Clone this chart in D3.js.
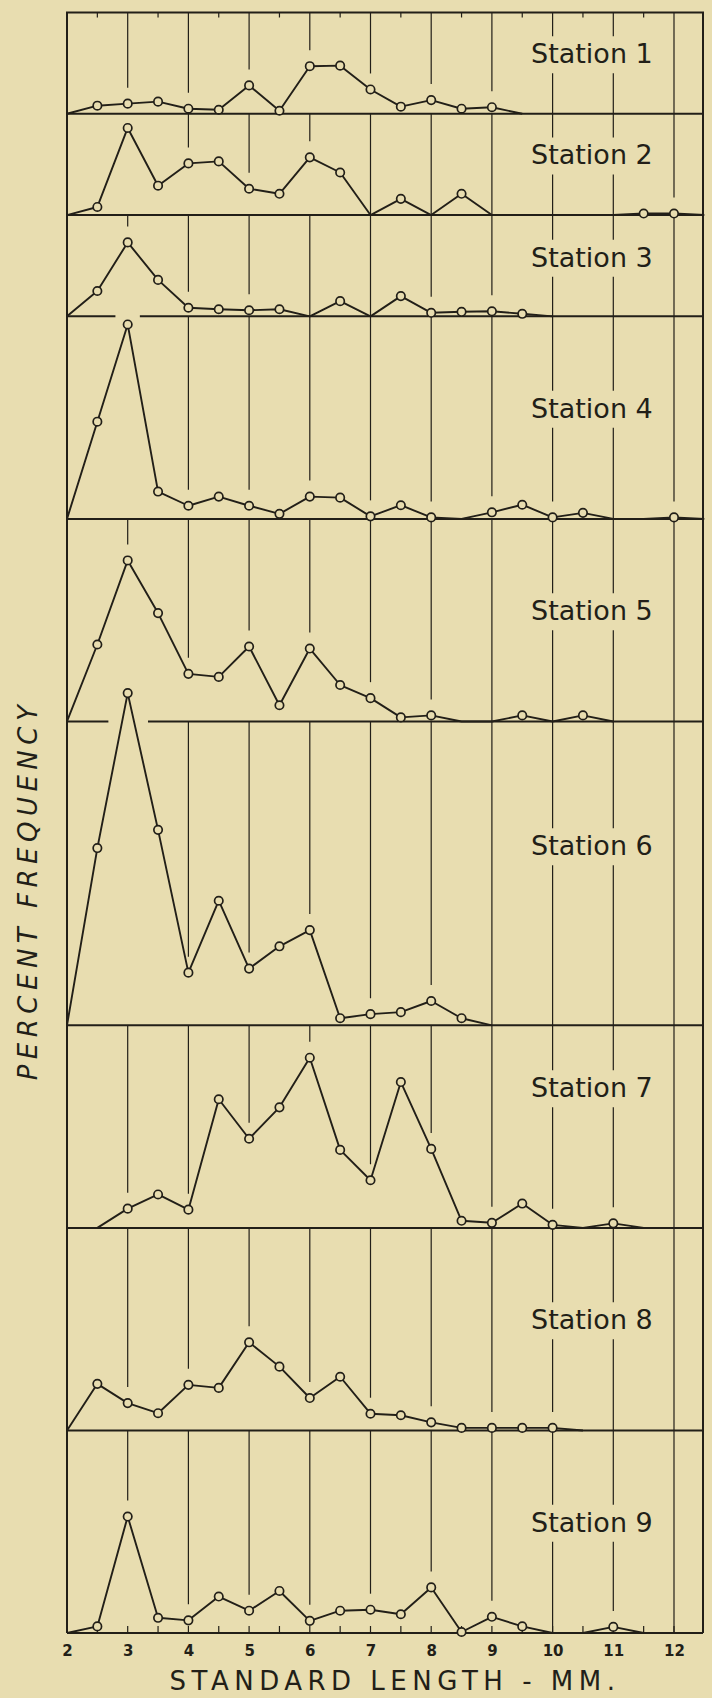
<!DOCTYPE html>
<html lang="en">
<head>
  <meta charset="UTF-8">
  <title>Percent frequency by standard length, stations 1-9</title>
  <script src="https://cdnjs.cloudflare.com/ajax/libs/d3/7.8.5/d3.min.js"></script>
  <style>
    body { margin: 0; background: #e8ddb0; }
    svg { display: block; }
  </style>
</head>
<body>
  <svg></svg>
  <script>
    // length classes (mm) along the x axis
    const lengths = [2, 2.5, 3, 3.5, 4, 4.5, 5, 5.5, 6, 6.5, 7, 7.5, 8, 8.5, 9, 9.5, 10, 10.5, 11, 11.5, 12, 12.5];
    const tickLabels = ['2', '3', '4', '5', '6', '7', '8', '9', '10', '11', '12'];
    const stationNames = ['Station 1', 'Station 2', 'Station 3', 'Station 4', 'Station 5',
      'Station 6', 'Station 7', 'Station 8', 'Station 9'];

    // percent frequency, one value per length class
    const station1 = [0, 0.8, 1.0, 1.2, 0.5, 0.4, 2.8, 0.3, 4.7, 4.75, 2.4, 0.7, 1.35, 0.5, 0.65, 0, 0, 0, 0, 0, 0, 0];
    const station2 = [0, 0.8, 8.6, 2.9, 5.1, 5.3, 2.6, 2.1, 5.7, 4.2, 0, 1.6, 0, 2.1, 0, 0, 0, 0, 0, 0.15, 0.15, 0];
    const station3 = [0, 2.5, 7.3, 3.6, 0.85, 0.7, 0.6, 0.7, 0, 1.5, 0, 2.0, 0.35, 0.45, 0.5, 0.25, 0, 0, 0, 0, 0, 0];
    const station4 = [0, 9.6, 19.2, 2.7, 1.3, 2.2, 1.3, 0.5, 2.2, 2.1, 0.25, 1.35, 0.15, 0, 0.65, 1.4, 0.15, 0.6, 0, 0, 0.15, 0];
    const station5 = [0, 7.6, 15.9, 10.7, 4.7, 4.4, 7.4, 1.6, 7.2, 3.6, 2.3, 0.4, 0.6, 0, 0, 0.6, 0, 0.6, 0, 0, 0, 0];
    const station6 = [0, 17.5, 32.8, 19.3, 5.2, 12.3, 5.6, 7.8, 9.4, 0.7, 1.1, 1.3, 2.4, 0.7, 0, 0, 0, 0, 0, 0, 0, 0];
    const station7 = [0, 0, 1.9, 3.3, 1.8, 12.7, 8.8, 11.9, 16.8, 7.7, 4.7, 14.4, 7.8, 0.7, 0.5, 2.4, 0.3, 0, 0.45, 0, 0, 0];
    const station8 = [0, 4.6, 2.7, 1.7, 4.5, 4.2, 8.7, 6.3, 3.2, 5.3, 1.65, 1.5, 0.8, 0.25, 0.25, 0.25, 0.25, 0, 0, 0, 0, 0];
    const station9 = [0, 0.65, 11.5, 1.5, 1.25, 3.6, 2.2, 4.15, 1.2, 2.2, 2.3, 1.85, 4.5, 0.1, 1.6, 0.65, 0, 0, 0.6, 0, 0, 0];
    const allStations = [station1, station2, station3, station4, station5, station6, station7, station8, station9];

    // height of each panel in percent
    const panelMax = [10, 10, 10, 20, 20, 30, 20, 20, 20];

    // layout
    const W = 712, H = 1698;
    const plotTop = 12.5, plotBottom = 1633;
    const plotLeft = 67, plotRight = 703;
    const labelDrop = [5, 5, 5.1, 10, 10, 13.2, 7.1, 10, 10]; // label baseline below panel top, in percent units
    const ink = '#221f18', paper = '#e8ddb0';

    const svg = d3.select('svg').attr('width', W).attr('height', H);
    svg.append('rect').attr('width', W).attr('height', H).attr('fill', paper);

    const x = d3.scaleLinear().domain([2, 12]).range([plotLeft, 674]);
    const stack = d3.scaleLinear().domain([0, d3.sum(panelMax)]).range([plotTop, plotBottom]);

    const gGrid = svg.append('g');
    const gFrame = svg.append('g');
    const gData = svg.append('g');
    const gText = svg.append('g');

    // panels
    let cum = 0;
    const panels = allStations.map((vals, i) => {
      const top = stack(cum);
      cum += panelMax[i];
      const base = stack(cum);
      const y = d3.scaleLinear().domain([0, panelMax[i]]).range([base, top]);
      const firstNz = vals.findIndex(v => v > 0);
      let lastNz = vals.length - 1;
      while (vals[lastNz] === 0) lastNz--;
      const from = Math.max(0, firstNz - 1), to = Math.min(vals.length - 1, lastNz + 1);
      const pts = d3.range(from, to + 1).map(j => [x(lengths[j]), y(vals[j]), vals[j]]);
      return { vals, top, base, y, from, to, pts, name: stationNames[i], drop: labelDrop[i] };
    });

    // station labels (measured so gridlines can break around them)
    panels.forEach((p, i) => {
      const unit = (p.base - p.top) / panelMax[i];
      const ly = p.top + p.drop * unit;
      const t = gText.append('text')
        .attr('x', 531).attr('y', ly)
        .attr('font-family', 'DejaVu Sans, sans-serif')
        .attr('font-size', 27)
        .attr('fill', ink)
        .text(p.name);
      p.label = t.node().getBBox();
      p.ly = ly;
    });

    // vertical gridlines, from panel top down to just above the curve
    const gridKs = d3.range(3, 13);
    panels.forEach(p => {
      gridKs.forEach(k => {
        const j = lengths.indexOf(k);
        const v = p.vals[j];
        let end = p.base;
        if (j >= p.from && j <= p.to && v > 0) end = p.y(v) - 16;
        if (end < p.top + 3) return;
        const gx = x(k);
        let segs = [[p.top, end]];
        if (gx > p.label.x && gx < p.label.x + p.label.width) {
          const a = p.ly - 27, b = p.ly + 10;
          segs = [[p.top, Math.min(a, end)], [b, end]].filter(s => s[1] > s[0]);
        }
        segs.forEach(s => {
          gGrid.append('line')
            .attr('x1', gx).attr('x2', gx).attr('y1', s[0]).attr('y2', s[1])
            .attr('stroke', ink).attr('stroke-width', 1.2);
        });
      });
    });

    // ranges where a curve comes close to the line above it
    function nearRanges(pts, lineY, near, pad) {
      const lim = lineY + near, out = [];
      for (let j = 1; j < pts.length; j++) {
        const [x1, y1] = pts[j - 1], [x2, y2] = pts[j];
        if (y1 >= lim && y2 >= lim) continue;
        const t = (lim - y1) / (y2 - y1);
        const xc = x1 + (x2 - x1) * t;
        const xa = y1 < lim ? x1 : xc;
        const xb = y2 < lim ? x2 : xc;
        out.push([Math.min(xa, xb) - pad, Math.max(xa, xb) + pad]);
      }
      out.sort((a, b) => a[0] - b[0]);
      const merged = [];
      out.forEach(r => {
        const last = merged[merged.length - 1];
        if (last && r[0] <= last[1]) last[1] = Math.max(last[1], r[1]);
        else merged.push(r.slice());
      });
      return merged;
    }

    // horizontal baselines (broken where the next curve pokes through)
    panels.forEach((p, i) => {
      const next = panels[i + 1];
      const gaps = next ? nearRanges(next.pts, p.base, 9, 12) : [];
      let x0 = plotLeft;
      gaps.concat([[plotRight, plotRight]]).forEach(g => {
        gFrame.append('line')
          .attr('x1', x0).attr('x2', g[0]).attr('y1', p.base).attr('y2', p.base)
          .attr('stroke', ink).attr('stroke-width', 2);
        x0 = g[1];
      });
    });

    // frame
    gFrame.append('line').attr('x1', plotLeft - 1).attr('x2', plotRight + 1)
      .attr('y1', plotTop).attr('y2', plotTop).attr('stroke', ink).attr('stroke-width', 2);
    [plotLeft, plotRight].forEach(fx => {
      gFrame.append('line').attr('x1', fx).attr('x2', fx)
        .attr('y1', plotTop).attr('y2', plotBottom).attr('stroke', ink).attr('stroke-width', 2);
    });

    // small ticks on top and bottom edges
    const halfKs = lengths.filter(v => v > 2 && v < 12.5);
    halfKs.filter(v => v % 1 !== 0).forEach(v => {
      gFrame.append('line').attr('x1', x(v)).attr('x2', x(v))
        .attr('y1', plotTop).attr('y2', plotTop + 5).attr('stroke', ink).attr('stroke-width', 1.2);
    });
    halfKs.forEach(v => {
      gFrame.append('line').attr('x1', x(v)).attr('x2', x(v))
        .attr('y1', plotBottom).attr('y2', plotBottom - 7).attr('stroke', ink).attr('stroke-width', 1.2);
    });

    // curves and markers
    const line = d3.line().x(d => d[0]).y(d => d[1]);
    panels.forEach(p => {
      gData.append('path')
        .attr('d', line(p.pts))
        .attr('fill', 'none').attr('stroke', ink).attr('stroke-width', 1.9)
        .attr('stroke-linejoin', 'round');
      gData.selectAll(null)
        .data(p.pts.filter(d => d[2] > 0))
        .enter()
        .append('circle')
        .attr('cx', d => d[0]).attr('cy', d => d[1]).attr('r', 4.2)
        .attr('fill', paper).attr('stroke', ink).attr('stroke-width', 1.7);
    });

    // x axis labels
    const axis = d3.axisBottom(x)
      .tickValues(tickLabels.map(Number))
      .tickFormat(d => tickLabels[tickLabels.indexOf(String(d))])
      .tickSize(0).tickPadding(12);
    const gAxis = gText.append('g').attr('transform', `translate(0,${plotBottom})`).call(axis);
    gAxis.select('.domain').remove();
    gAxis.selectAll('text')
      .attr('font-family', 'DejaVu Sans, sans-serif')
      .attr('font-size', 15).attr('font-weight', 'bold').attr('fill', ink);

    // axis titles
    gText.append('text')
      .attr('x', 395).attr('y', 1690)
      .attr('text-anchor', 'middle')
      .attr('font-family', 'DejaVu Sans, sans-serif')
      .attr('font-size', 26).attr('letter-spacing', 5.5)
      .attr('fill', ink)
      .text('STANDARD LENGTH - MM.');

    gText.append('text')
      .attr('transform', 'translate(37,890) rotate(-90)')
      .attr('text-anchor', 'middle')
      .attr('font-family', 'DejaVu Sans, sans-serif')
      .attr('font-style', 'italic')
      .attr('font-size', 26).attr('letter-spacing', 5.5)
      .attr('fill', ink)
      .text('PERCENT FREQUENCY');
  </script>
</body>
</html>
